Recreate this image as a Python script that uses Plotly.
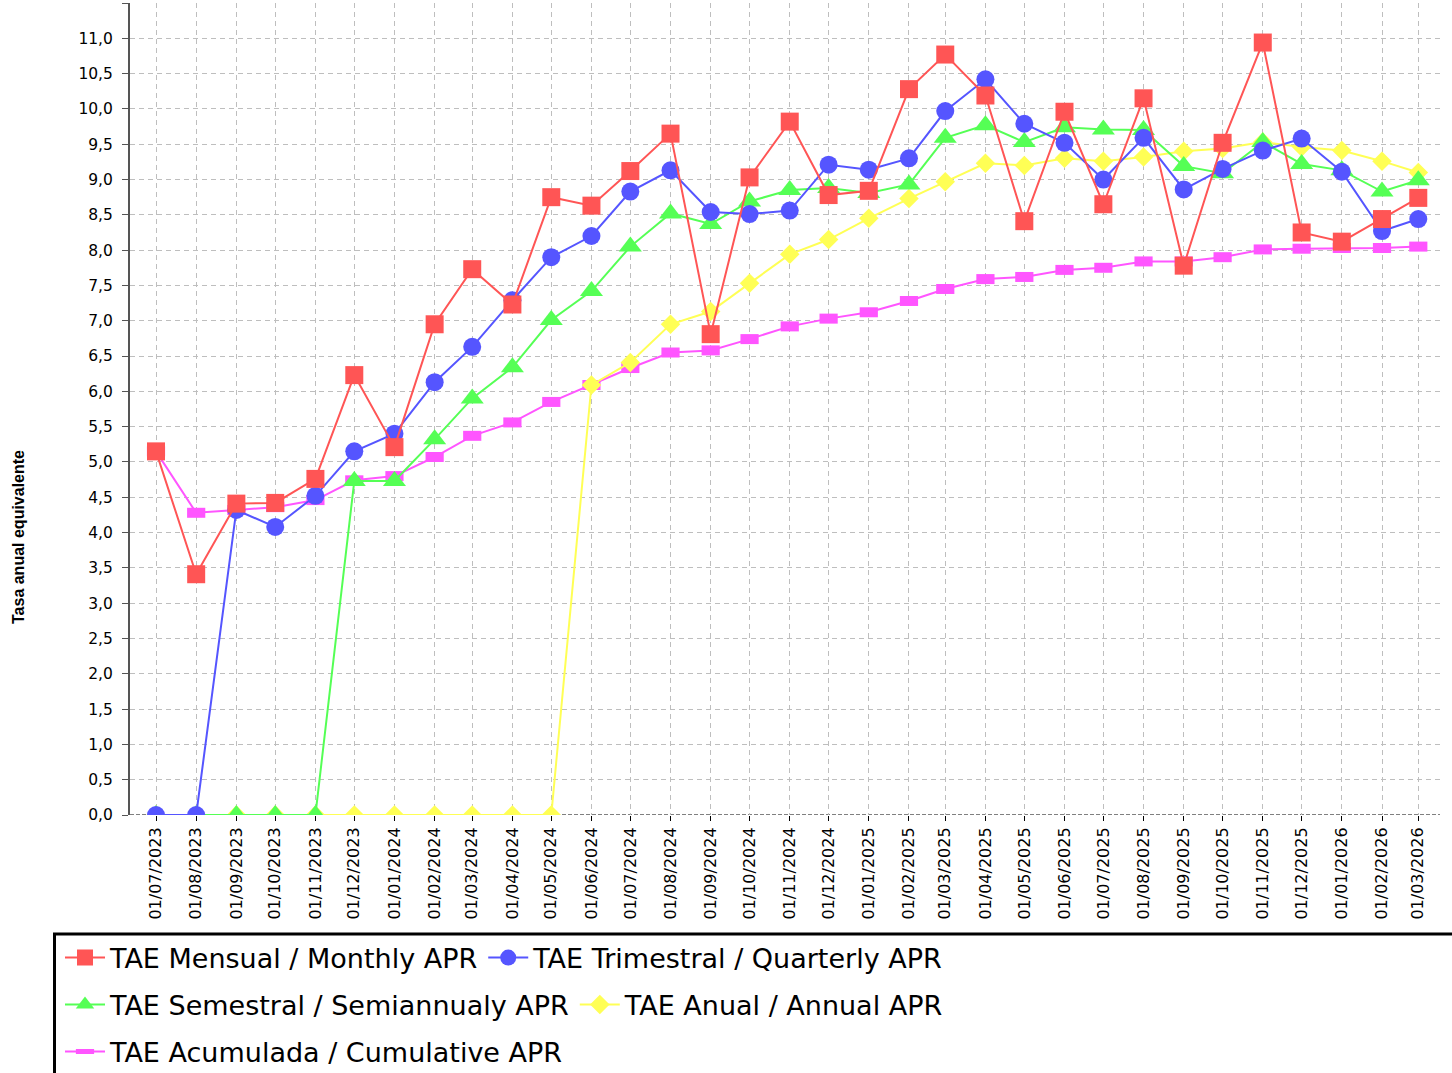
import plotly.graph_objects as go

# ---- data ----
dates = ["2023-07-01", "2023-08-01", "2023-09-01", "2023-10-01", "2023-11-01", "2023-12-01",
         "2024-01-01", "2024-02-01", "2024-03-01", "2024-04-01", "2024-05-01", "2024-06-01",
         "2024-07-01", "2024-08-01", "2024-09-01", "2024-10-01", "2024-11-01", "2024-12-01",
         "2025-01-01", "2025-02-01", "2025-03-01", "2025-04-01", "2025-05-01", "2025-06-01",
         "2025-07-01", "2025-08-01", "2025-09-01", "2025-10-01", "2025-11-01", "2025-12-01",
         "2026-01-01", "2026-02-01", "2026-03-01"]
tick_labels = ["01/07/2023", "01/08/2023", "01/09/2023", "01/10/2023", "01/11/2023", "01/12/2023",
               "01/01/2024", "01/02/2024", "01/03/2024", "01/04/2024", "01/05/2024", "01/06/2024",
               "01/07/2024", "01/08/2024", "01/09/2024", "01/10/2024", "01/11/2024", "01/12/2024",
               "01/01/2025", "01/02/2025", "01/03/2025", "01/04/2025", "01/05/2025", "01/06/2025",
               "01/07/2025", "01/08/2025", "01/09/2025", "01/10/2025", "01/11/2025", "01/12/2025",
               "01/01/2026", "01/02/2026", "01/03/2026"]

monthly = [5.15, 3.41, 4.41, 4.42, 4.76, 6.23, 5.21, 6.95, 7.73, 7.23, 8.75, 8.63, 9.12, 9.65,
           6.81, 9.03, 9.82, 8.78, 8.84, 10.28, 10.77, 10.19, 8.41, 9.96, 8.65, 10.15, 7.78,
           9.52, 10.94, 8.25, 8.12, 8.44, 8.74]
quarterly = [0.0, 0.0, 4.32, 4.08, 4.52, 5.15, 5.40, 6.13, 6.63, 7.29, 7.90, 8.20, 8.83, 9.13,
             8.54, 8.51, 8.56, 9.21, 9.14, 9.30, 9.97, 10.42, 9.79, 9.52, 9.00, 9.59, 8.86,
             9.15, 9.41, 9.58, 9.11, 8.27, 8.44]
semiannual = [0.0, 0.0, 0.0, 0.0, 0.0, 4.73, 4.73, 5.32, 5.90, 6.34, 7.01, 7.42, 8.05, 8.52,
              8.37, 8.69, 8.85, 8.88, 8.81, 8.93, 9.59, 9.77, 9.53, 9.74, 9.71, 9.70, 9.19,
              9.09, 9.53, 9.22, 9.13, 8.83, 8.99]
annual = [0.0, 0.0, 0.0, 0.0, 0.0, 0.0, 0.0, 0.0, 0.0, 0.0, 0.0, 6.09, 6.41, 6.95,
          7.13, 7.53, 7.94, 8.15, 8.45, 8.73, 8.97, 9.23, 9.20, 9.30, 9.26, 9.32, 9.40,
          9.44, 9.53, 9.46, 9.41, 9.26, 9.10]
cumulative = [5.15, 4.28, 4.32, 4.36, 4.46, 4.74, 4.80, 5.07, 5.37, 5.56, 5.85, 6.09, 6.33, 6.55,
              6.58, 6.74, 6.92, 7.03, 7.12, 7.28, 7.45, 7.59, 7.62, 7.72, 7.75, 7.84, 7.84,
              7.90, 8.01, 8.02, 8.03, 8.03, 8.05]

names = ["TAE Mensual / Monthly APR", "TAE Trimestral / Quarterly APR",
         "TAE Semestral / Semiannualy APR", "TAE Anual / Annual APR",
         "TAE Acumulada / Cumulative APR"]
y_title = "Tasa anual equivalente"

FONT = "DejaVu Sans"
fig = go.Figure()

# drawn bottom -> top (series 0 on top, like the original)
fig.add_trace(go.Scatter(
    x=dates, y=cumulative, name=names[4], mode="lines+markers",
    line=dict(color="#FF55FF", width=2),
    marker=dict(symbol="line-ew", size=13, line=dict(color="#FF55FF", width=10)),
    legend="legend3", legendrank=5))
fig.add_trace(go.Scatter(
    x=dates, y=annual, name=names[3], mode="lines+markers",
    line=dict(color="#FFFF55", width=2),
    marker=dict(symbol="diamond", size=15, color="#FFFF55", line=dict(width=0)),
    legend="legend2", legendrank=4))
fig.add_trace(go.Scatter(
    x=dates, y=semiannual, name=names[2], mode="lines+markers",
    line=dict(color="#55FF55", width=2),
    marker=dict(symbol="triangle-up", size=20, color="#55FF55", line=dict(width=0)),
    legend="legend2", legendrank=3))
fig.add_trace(go.Scatter(
    x=dates, y=quarterly, name=names[1], mode="lines+markers",
    line=dict(color="#5555FF", width=2),
    marker=dict(symbol="circle", size=18, color="#5555FF", line=dict(width=0)),
    legend="legend", legendrank=2))
fig.add_trace(go.Scatter(
    x=dates, y=monthly, name=names[0], mode="lines+markers",
    line=dict(color="#FF5555", width=2),
    marker=dict(symbol="square", size=18, color="#FF5555", line=dict(width=0)),
    legend="legend", legendrank=1))

W, H = 1452, 1073
ml, mr, mt, mb = 130, 12, 3, 258
pw, ph = W - ml - mr, H - mt - mb


def px_x(X):
    return (X - ml) / pw


def px_y(Y):
    return (H - mb - Y) / ph


leg_common = dict(orientation="h", xanchor="left", yanchor="middle",
                  font=dict(family=FONT, size=27, color="black"),
                  bgcolor="rgba(0,0,0,0)", borderwidth=0, itemwidth=40,
                  traceorder="normal")

fig.update_layout(
    width=W, height=H,
    margin=dict(l=ml, r=mr, t=mt, b=mb, autoexpand=False),
    paper_bgcolor="white", plot_bgcolor="white",
    separators=",.",
    font=dict(family=FONT, color="black"),
    xaxis=dict(
        type="date",
        range=["2023-06-10 22:30", "2026-03-17 18:00"],
        tickmode="array", tickvals=dates, ticktext=tick_labels,
        tickangle=-90, tickfont=dict(family=FONT, size=16, color="black"),
        ticks="outside", ticklen=5, tickcolor="black", tickwidth=1,
        showgrid=True, gridcolor="#BEBEBE", gridwidth=1, griddash="5px,4px",
        showline=False, zeroline=False,
    ),
    yaxis=dict(
        range=[0, 11.5], tick0=0, dtick=0.5, tickformat=".1f",
        tickfont=dict(family=FONT, size=15.5, color="black"),
        ticks="outside", ticklen=6, tickcolor="#555555", tickwidth=1,
        ticklabelstandoff=6,
        showgrid=True, gridcolor="#BEBEBE", gridwidth=1, griddash="5px,4px",
        showline=True, linecolor="#555555", linewidth=2,
        zeroline=False,
    ),
    legend=dict(x=px_x(60), y=px_y(958), **leg_common),
    legend2=dict(x=px_x(60), y=px_y(1005), **leg_common),
    legend3=dict(x=px_x(60), y=px_y(1052), **leg_common),
    shapes=[
        # dashed baseline of the domain axis
        dict(type="line", xref="paper", x0=0, x1=1, yref="y", y0=0, y1=0,
             line=dict(color="black", width=1, dash="4px,2px"), layer="between"),
        # legend frame (extends past the page edges as in the original)
        dict(type="rect", xref="paper", yref="paper",
             x0=px_x(54.5), x1=px_x(1480), y0=px_y(934), y1=px_y(1100),
             line=dict(color="black", width=3), fillcolor="rgba(0,0,0,0)", layer="above"),
    ],
    annotations=[
        dict(text="<b>" + y_title + "</b>", xref="paper", yref="paper",
             x=px_x(18), y=px_y(537), textangle=-90, showarrow=False,
             xanchor="center", yanchor="middle",
             font=dict(family="Liberation Sans", size=16, color="black")),
    ],
)

fig.write_html("out.html", config={"displayModeBar": False},
               post_script="document.body.style.margin='0';document.body.style.overflow='hidden';")
